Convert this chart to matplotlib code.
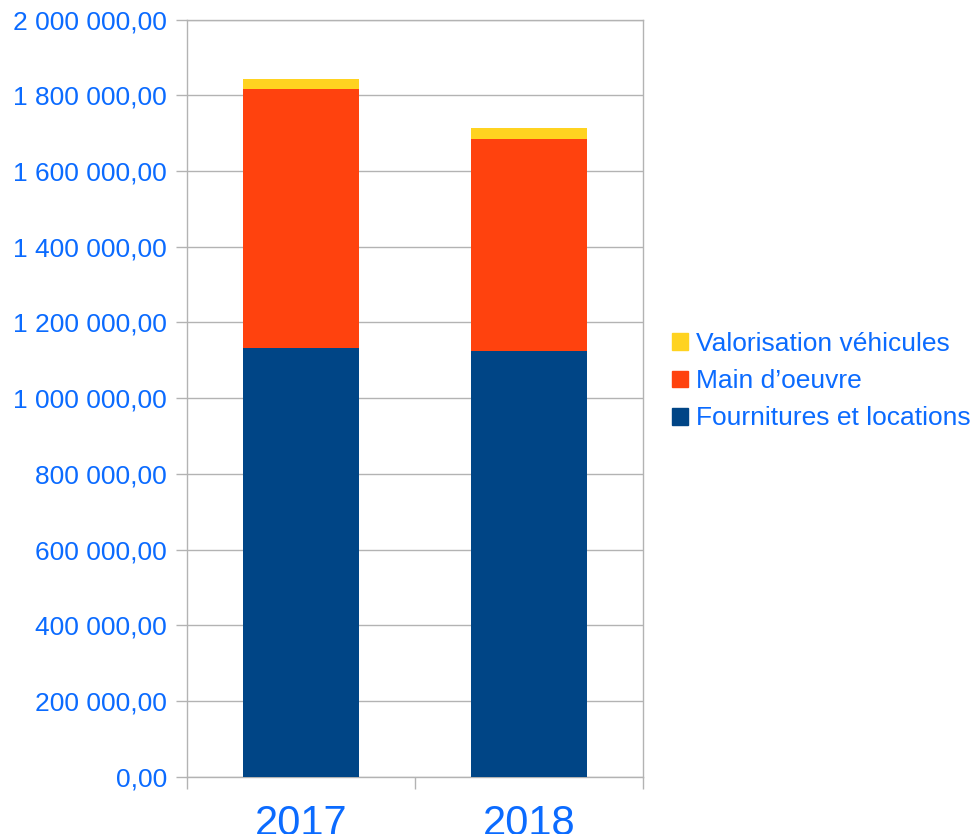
import matplotlib.pyplot as plt
from matplotlib.patches import Patch
from matplotlib.ticker import FuncFormatter

years = ['2017', '2018']
fournitures = [1133000, 1125000]
main_oeuvre = [685000, 561000]
vehicules = [26000, 29000]

c_blue = '#004586'
c_red = '#ff420e'
c_yellow = '#ffd320'
c_text = '#0b6bff'
c_grid = '#b3b3b3'

plt.rcParams['font.family'] = ['Liberation Sans', 'DejaVu Sans']

fig = plt.figure(figsize=(9.75, 8.34), dpi=100)
ax = fig.add_axes([0.1918, 0.0687, 0.4677, 0.9077])

x = range(len(years))
bottom2 = [a + b for a, b in zip(fournitures, main_oeuvre)]
ax.bar(x, fournitures, width=0.505, color=c_blue, zorder=3)
ax.bar(x, main_oeuvre, width=0.505, bottom=fournitures, color=c_red, zorder=3)
ax.bar(x, vehicules, width=0.505, bottom=bottom2, color=c_yellow, zorder=3)

ax.set_xlim(-0.5, 1.5)
ax.set_ylim(0, 2000000)
ax.set_yticks(range(0, 2000001, 200000))


def fmt(v, pos):
    s = f'{int(v):,}'.replace(',', ' ')
    return s + ',00'


ax.yaxis.set_major_formatter(FuncFormatter(fmt))
ax.yaxis.grid(True, color=c_grid, linewidth=1, zorder=0)

# year labels sit low and get clipped by the bottom edge, like the original
ax.set_xticks(list(x))
ax.set_xticklabels(years)
ax.set_xticks([-0.5, 0.5, 1.5], minor=True)
ax.tick_params(axis='x', which='major', length=0, pad=19.5, labelsize=30, labelcolor=c_text)
ax.tick_params(axis='x', which='minor', length=8.5, color=c_grid, width=1)
ax.tick_params(axis='y', length=8, color=c_grid, width=1, pad=6.5, labelsize=19, labelcolor=c_text)

for s in ['left', 'right', 'bottom', 'top']:
    ax.spines[s].set_color(c_grid)
    ax.spines[s].set_linewidth(1)

handles = [Patch(color=c_yellow), Patch(color=c_red), Patch(color=c_blue)]
labels = ['Valorisation véhicules', "Main d’oeuvre", 'Fournitures et locations']
leg = fig.legend(handles, labels, loc='center left', bbox_to_anchor=(0.689, 0.5428),
                 frameon=False, fontsize=19, handlelength=0.6, handleheight=0.6,
                 handletextpad=0.3, labelspacing=0.5, borderpad=0, borderaxespad=0)
for t in leg.get_texts():
    t.set_color(c_text)

fig.savefig('out.png', dpi=100)
